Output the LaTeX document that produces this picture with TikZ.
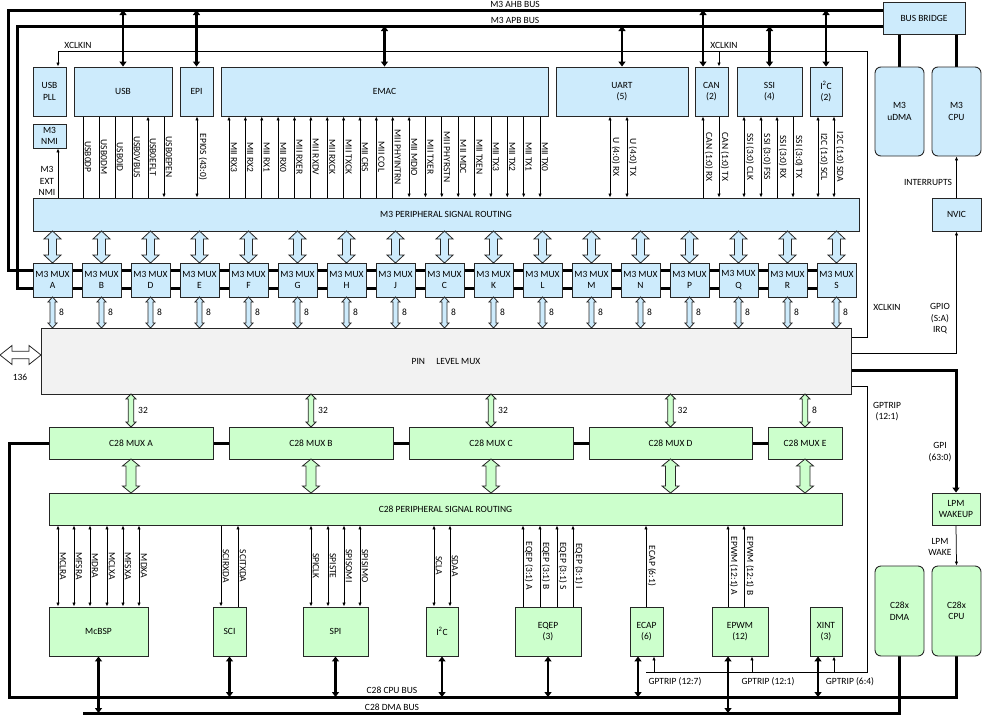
\documentclass[tikz,border=0pt]{standalone}
\usepackage{fontspec}
\setmainfont{Carlito}
\usetikzlibrary{arrows.meta}
\definecolor{mblue}{RGB}{205,235,252}
\definecolor{mgreen}{RGB}{204,255,204}
\definecolor{mgray}{RGB}{242,242,242}
\pgfdeclarelayer{bg}
\pgfsetlayers{bg,main}
\newcommand{\bx}[7]{\node[#6, minimum width={(#4)-(#2)}, minimum height={(#5)-(#3)}] (#1) at ({((#2)+(#4))/2},{((#3)+(#5))/2}) {#7};}
\newcommand{\vda}[7]{\filldraw[fill=#7, draw=black!85, line width=0.8pt] ({#1-#4},{#2+#6}) -- ({#1-#5},{#2+#6}) -- (#1,#2) -- ({#1+#5},{#2+#6}) -- ({#1+#4},{#2+#6}) -- ({#1+#4},{#3-#6}) -- ({#1+#5},{#3-#6}) -- (#1,#3) -- ({#1-#5},{#3-#6}) -- ({#1-#4},{#3-#6}) -- cycle;}
\begin{document}
\begin{tikzpicture}[x=1pt,y=-1pt,
 every node/.style={font=\fontsize{9.5}{11.5}\selectfont, inner sep=1pt},
 box/.style={draw=black!85, line width=0.9pt, align=center, inner sep=1pt},
 bbox/.style={box, fill=mblue},
 gbox/.style={box, fill=mgreen},
 sig/.style={line width=0.75pt, >={Latex[length=4pt,width=3.4pt]}},
 rotlab/.style={rotate=-90, anchor=south, inner sep=1.5pt},
 bus/.style={line width=3pt},
 busarr/.style={line width=2.6pt, >={Triangle[length=5pt,width=7pt]}, <->},
 lab/.style={align=center, inner sep=0pt},
]
\useasboundingbox (0,0) rectangle (982,715);

% ---------- M3 side boxes
\bx{bridge}{883}{2}{965}{34}{bbox}{BUS BRIDGE}
\bx{udma}{875}{67}{924}{156}{bbox,rounded corners=6pt}{M3\\uDMA}
\bx{m3cpu}{932}{67}{981}{156}{bbox,rounded corners=6pt}{M3\\CPU}
\bx{nvic}{932}{198}{981}{231}{bbox}{NVIC}
\bx{usbpll}{33}{67}{66}{116}{bbox}{USB\\PLL}
\bx{m3nmi}{33}{124}{66}{148}{bbox}{M3\\NMI}
\bx{usb}{74}{67}{172}{116}{bbox}{USB}
\bx{epi}{180}{67}{213}{116}{bbox}{EPI}
\bx{emac}{221}{67}{548}{116}{bbox}{EMAC}
\bx{uart}{556}{67}{688}{116}{bbox}{UART\\(5)}
\bx{can}{695}{67}{728}{116}{bbox}{CAN\\(2)}
\bx{ssi}{737}{67}{802}{116}{bbox}{SSI\\(4)}
\bx{itc}{810}{67}{842}{116}{bbox}{I\textsuperscript{2}C\\(2)}
\bx{m3r}{33}{198}{859}{231}{bbox}{M3 PERIPHERAL SIGNAL ROUTING}
\bx{pin}{41}{328}{851}{394}{box,fill=mgray}{PIN\hspace{1.2em}LEVEL MUX}

\foreach \mx [count=\i from 0] in {A,B,D,E,F,G,H,J,C,K,L,M,N,P,Q,R,S}{
 \pgfmathsetmacro\xc{52.5+49*\i}
 \node[bbox, minimum width=39, minimum height=34] (m\mx) at (\xc,280) {M3 MUX\\\mx};
 \vda{\xc}{231}{263}{4}{8.5}{8}{mblue}
 \vda{\xc}{297}{328}{2.5}{4.5}{5}{mblue}
 \node[lab, anchor=west] at (\xc+6.5,312) {8};
}

% ---------- C28 side boxes
\bx{cA}{49}{427}{213}{459}{gbox}{C28 MUX A}
\bx{cB}{229}{427}{393}{459}{gbox}{C28 MUX B}
\bx{cC}{409}{427}{573}{459}{gbox}{C28 MUX C}
\bx{cD}{589}{427}{752}{459}{gbox}{C28 MUX D}
\bx{cE}{768}{427}{842}{459}{gbox}{C28 MUX E}
\bx{c28r}{49}{493}{842}{525}{gbox}{C28 PERIPHERAL SIGNAL ROUTING}
\bx{mcbsp}{49}{607}{148}{656}{gbox}{McBSP}
\bx{sci}{213}{607}{246}{656}{gbox}{SCI}
\bx{spi}{303}{607}{368}{656}{gbox}{SPI}
\bx{ci2c}{426}{607}{458}{656}{gbox}{I\textsuperscript{2}C}
\bx{eqep}{515}{607}{581}{656}{gbox}{EQEP\\(3)}
\bx{ecap}{630}{607}{663}{656}{gbox}{ECAP\\(6)}
\bx{epwm}{712}{607}{768}{656}{gbox}{EPWM\\(12)}
\bx{xint}{810}{607}{842}{656}{gbox}{XINT\\(3)}
\bx{lpm}{932}{493}{980}{525}{gbox}{LPM\\WAKEUP}
\bx{cdma}{875}{566}{924}{656}{gbox,rounded corners=6pt}{C28x\\DMA}
\bx{ccpu}{932}{566}{981}{656}{gbox,rounded corners=6pt}{C28x\\CPU}

\foreach \xc/\lb in {131/32,311/32,491/32,670.5/32,805/8}{
 \vda{\xc}{394}{427}{2.8}{5}{5}{mgreen}
 \vda{\xc}{459}{493}{5}{8.5}{7}{mgreen}
 \node[lab, anchor=west] at (\xc+7,410) {\lb};
}

% 136 arrow
\filldraw[fill=white, draw=black!85, line width=0.8pt] (0,355) -- (12,345.5) -- (12,351.2) -- (29,351.2) -- (29,345.5) -- (41,355) -- (29,364.5) -- (29,358.8) -- (12,358.8) -- (12,364.5) -- cycle;

% ---------- connectors
\begin{pgfonlayer}{bg}
\draw[bus] (bridge.west |- 0,10) -- (8,10) -- (8,270) -- (mS.west |- 0,270);
\draw[bus] (bridge.west |- 0,26) -- (17,26) -- (17,288) -- (mS.west |- 0,288);
\draw[bus] (bridge.south -| udma.north) -- (udma.north);
\draw[bus] (bridge.south -| m3cpu.north) -- (m3cpu.north);
\draw[busarr] (usb.north |- 0,10) -- (usb.north);
\draw[busarr] (epi.north |- 0,10) -- (epi.north);
\draw[busarr] (703,10) -- (can.north -| 703,0);
\draw[busarr] (itc.north |- 0,10) -- (itc.north);
\draw[busarr] (emac.north |- 0,26) -- (emac.north);
\draw[busarr] (uart.north |- 0,26) -- (uart.north);
\draw[busarr] (ssi.north |- 0,26) -- (ssi.north);
\draw[sig,->] (nvic.north) -- (m3cpu.south);
\draw[sig,<-] (usbpll.north -| 58,0) -- (58,51) -- (867,51) -- (867,337) -- (pin.east |- 0,337);
\draw[sig,->] (719,51) -- (can.north -| 719,0);
\draw[sig,->] (m3r.north -| 58,0) -- (m3nmi.south -| 58,0);
\draw[sig,->] (pin.east |- 0,353) -- (956.5,353) -- (nvic.south);
\draw[bus,->,>={Triangle[length=5pt,width=7pt]}] (pin.east |- 0,370) -- (956,370) -- (lpm.north);
\draw[sig] (pin.east |- 0,386) -- (867,386) -- (867,672) -- (646,672);
\draw[sig,->] (654,672) -- (ecap.south -| 654,0);
\draw[sig,->] (752,672) -- (epwm.south -| 752,0);
\draw[sig,->] (834,672) -- (xint.south -| 834,0);
\draw[sig,->] (lpm.south) -- (ccpu.north);

% M3 signals
\foreach \xx/\tx/\ar in {83/USB0DP/-,99/USB0DM/-,115/USB0ID/-,132/USB0VBUS/-,148/USB0EFLT/<-,164/USB0EPEN/->,197/EPI0S (43:0)/<->,610/U (4:0) RX/<->,627/U (4:0) TX/<->,703/CAN (1:0) RX/<-,719/CAN (1:0) TX/->,744/SSI (3:0) CLK/<->,761/SSI (3:0) FSS/<->,777/SSI (3:0) RX/<-,793/SSI (3:0) TX/->,818/I2C (1:0) SCL/<->,834/I2C (1:0) SDA/<->}{
 \draw[sig,\ar] (usb.south -| \xx,0) -- node[rotlab]{\tx} (m3r.north -| \xx,0);
}
\foreach \tx [count=\i from 0] in {MII RX3,MII RX2,MII RX1,MII RX0,MII RXER,MII RXDV,MII RXCK,MII TXCK,MII CRS,MII COL,MII PHYINTRN}{
 \pgfmathsetmacro\xx{229+16.37*\i}
 \draw[sig,<-] (emac.south -| \xx,0) -- node[rotlab]{\tx} (m3r.north -| \xx,0);
}
\draw[sig,<->] (emac.south -| 409.1,0) -- node[rotlab]{MII MDIO} (m3r.north -| 409.1,0);
\foreach \tx [count=\i from 12] in {MII TXER,MII PHYRSTN,MII MDC,MII TXEN,MII TX3,MII TX2,MII TX1,MII TX0}{
 \pgfmathsetmacro\xx{229+16.37*\i}
 \draw[sig,->] (emac.south -| \xx,0) -- node[rotlab]{\tx} (m3r.north -| \xx,0);
}

% C28 buses
\draw[bus] (cA.west) -- (9,443) -- (9,697) -- (ccpu.south |- 0,697) -- (ccpu.south);
\draw[bus] (83,713) -- (cdma.south |- 0,713) -- (cdma.south);
\draw[bus] (cA.east) -- (cB.west);
\draw[bus] (cB.east) -- (cC.west);
\draw[bus] (cC.east) -- (cD.west);
\draw[bus] (cD.east) -- (cE.west);
\draw[busarr] (mcbsp.south) -- (mcbsp.south |- 0,713);
\draw[busarr] (sci.south) -- (sci.south |- 0,697);
\draw[busarr] (spi.south) -- (spi.south |- 0,697);
\draw[busarr] (ci2c.south) -- (ci2c.south |- 0,697);
\draw[busarr] (eqep.south) -- (eqep.south |- 0,697);
\draw[busarr] (ecap.south -| 638,0) -- (638,697);
\draw[busarr] (epwm.south -| 728,0) -- (728,713);
\draw[busarr] (xint.south -| 818,0) -- (818,697);

% C28 signals
\foreach \xx/\tx/\ar in {58/MCLRA/<->,74/MFSRA/<->,90/MDRA/<->,107/MCLXA/<->,123/MFSXA/<->,139/MDXA/<->,221/SCIRXDA/->,238/SCITXDA/<-,311/SPICLK/<->,328/SPISTE/<->,344/SPISOMI/<->,360/SPISIMO/<->,434/SCLA/<->,450/SDAA/<->,523/EQEP (3:1) A/<-,540/EQEP (3:1) B/<-,557/EQEP (3:1) S/<-,573/EQEP (3:1) I/<-,646/ECAP (6:1)/<-,728/EPWM (12:1) A/<-,744/EPWM (12:1) B/<-}{
 \draw[sig,\ar] (c28r.south -| \xx,0) -- node[rotlab]{\tx} (mcbsp.north -| \xx,0);
}
\end{pgfonlayer}

% ---------- free labels
\node[lab] at (515,4.5) {M3 AHB BUS};
\node[lab] at (515,20) {M3 APB BUS};
\node[lab] at (78,45) {XCLKIN};
\node[lab] at (724,45) {XCLKIN};
\node[lab] at (887,307) {XCLKIN};
\node[lab] at (47,181) {M3\\EXT\\NMI};
\node[lab] at (928,182) {INTERRUPTS};
\node[lab] at (940,319) {GPIO\\(S:A)\\IRQ};
\node[lab] at (887,411.5) {GPTRIP\\(12:1)};
\node[lab] at (940,452) {GPI\\(63:0)};
\node[lab] at (940,547) {LPM\\WAKE};
\node[lab] at (20,377) {136};
\node[lab] at (675,682) {GPTRIP (12:7)};
\node[lab] at (768,682) {GPTRIP (12:1)};
\node[lab] at (850,682) {GPTRIP (6:4)};
\node[lab] at (392,690) {C28 CPU BUS};
\node[lab] at (392,707) {C28 DMA BUS};
\end{tikzpicture}
\end{document}
